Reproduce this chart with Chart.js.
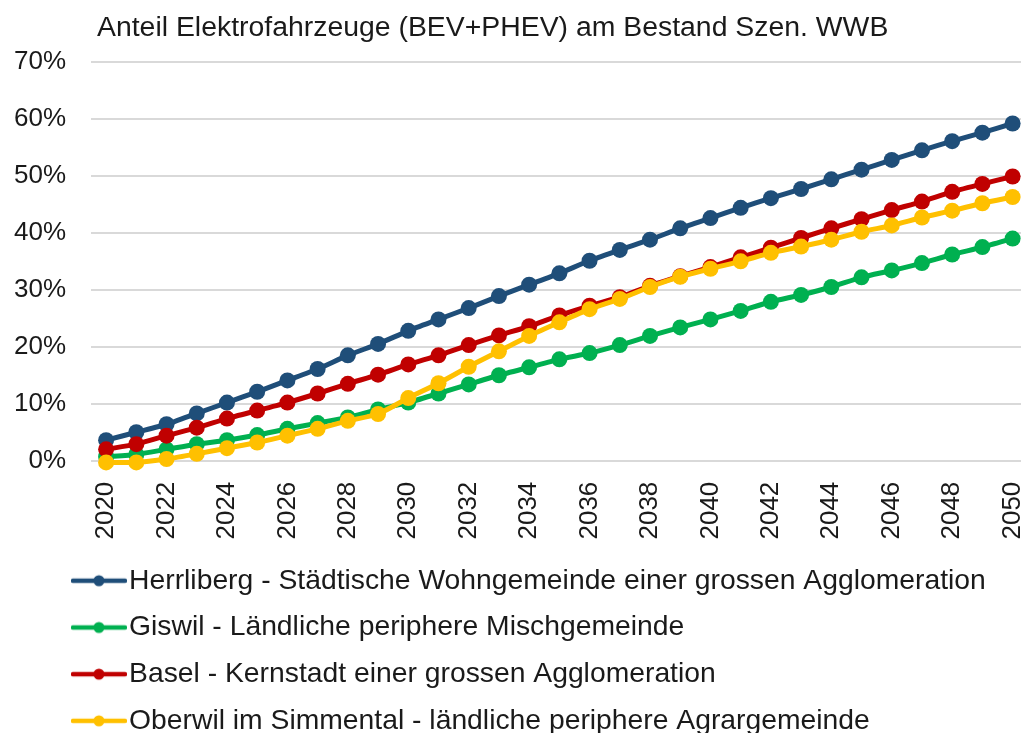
<!DOCTYPE html>
<html><head><meta charset="utf-8">
<script src="https://cdn.jsdelivr.net/npm/chart.js@4.4.1/dist/chart.umd.min.js"></script>
<style>
html,body{margin:0;padding:0;overflow:hidden;background:#fff}
#wrap{width:1065px;height:745px;position:relative}
</style></head>
<body><div id="wrap"><canvas id="c"></canvas></div>
<script>
const titleText = 'Anteil Elektrofahrzeuge (BEV+PHEV) am Bestand Szen. WWB';
const years = ['2020','2021','2022','2023','2024','2025','2026','2027','2028','2029','2030',
  '2031','2032','2033','2034','2035','2036','2037','2038','2039','2040',
  '2041','2042','2043','2044','2045','2046','2047','2048','2049','2050'];
const yTicks = [0,10,20,30,40,50,60,70];
const herrliberg = [3.6,5.0,6.4,8.3,10.2,12.1,14.1,16.1,18.5,20.5,22.8,24.8,26.8,28.9,30.9,32.9,35.1,37.0,38.8,40.8,42.6,44.4,46.1,47.7,49.4,51.1,52.8,54.5,56.1,57.6,59.2];
const giswil = [0.7,1.1,2.0,2.9,3.6,4.5,5.6,6.6,7.6,9.0,10.2,11.8,13.4,15.0,16.4,17.8,18.9,20.3,21.9,23.4,24.8,26.3,27.9,29.1,30.5,32.2,33.4,34.7,36.2,37.5,39.0];
const basel = [2.0,2.9,4.4,5.8,7.4,8.8,10.2,11.8,13.5,15.1,16.9,18.5,20.3,22.0,23.6,25.5,27.2,28.7,30.7,32.4,34.0,35.7,37.4,39.1,40.8,42.4,44.0,45.5,47.2,48.6,49.9];
const oberwil = [-0.3,-0.3,0.3,1.2,2.2,3.2,4.4,5.6,7.0,8.2,11.0,13.6,16.5,19.2,21.9,24.3,26.6,28.4,30.5,32.3,33.7,35.0,36.5,37.6,38.8,40.2,41.3,42.7,43.9,45.2,46.3];
const seriesLabels = [
  'Herrliberg - Städtische Wohngemeinde einer grossen Agglomeration',
  'Giswil - Ländliche periphere Mischgemeinde',
  'Basel - Kernstadt einer grossen Agglomeration',
  'Oberwil im Simmental - ländliche periphere Agrargemeinde'
];
const seriesColors = ['#1F4E79','#00B050','#C00000','#FFC000'];
const seriesData = [herrliberg, giswil, basel, oberwil];

const FONT = '"Liberation Sans", Arial, sans-serif';
const TEXT = '#1a1a1a';

function legendIcon(color){
  const cv = document.createElement('canvas');
  cv.width = 56; cv.height = 14;
  const g = cv.getContext('2d');
  g.strokeStyle = color; g.lineWidth = 4.5; g.lineCap = 'round';
  g.beginPath(); g.moveTo(2,7); g.lineTo(54,7); g.stroke();
  g.fillStyle = color; g.beginPath(); g.arc(28,7,5.5,0,Math.PI*2); g.fill();
  return cv;
}
const icons = seriesColors.map(legendIcon);

const titlePlugin = {
  id: 'sheetTitle',
  afterLayout(chart){
    if (chart.legend) { chart.legend.left = 64.5; }
  },
  afterDraw(chart){
    const ctx = chart.ctx;
    ctx.save();
    ctx.font = '28.4px ' + FONT;
    ctx.fillStyle = TEXT;
    ctx.textBaseline = 'middle';
    ctx.textAlign = 'left';
    ctx.fillText(titleText, 97, 28);
    ctx.restore();
  }
};

new Chart(document.getElementById('c'), {
  type: 'line',
  data: {
    labels: years,
    datasets: seriesData.map((d,i)=>({
      label: seriesLabels[i],
      data: d,
      borderColor: seriesColors[i],
      backgroundColor: seriesColors[i],
      borderWidth: 5,
      pointRadius: 8,
      pointHoverRadius: 8,
      pointBorderWidth: 0,
      tension: 0.2,
      clip: false,
      order: 4 - i
    }))
  },
  options: {
    responsive: true,
    maintainAspectRatio: false,
    animation: false,
    layout: { padding: { top: 62, left: 8, right: 12, bottom: 0 } },
    scales: {
      x: {
        offset: true,
        grid: { display: false, drawTicks: false },
        border: { display: false },
        ticks: {
          autoSkip: false, minRotation: 90, maxRotation: 90, padding: 21,
          color: TEXT, font: { family: FONT, size: 26 },
          callback: (v, idx) => idx % 2 === 0 ? years[idx] : ''
        },
        afterFit: (s) => { s.height = 87.5; }
      },
      y: {
        min: 0, max: 70,
        afterBuildTicks: (s) => { s.ticks = yTicks.map(v => ({ value: v })); },
        grid: { color: '#d9d9d9', lineWidth: 2, drawTicks: false },
        border: { display: false },
        ticks: {
          padding: 25, color: TEXT, font: { family: FONT, size: 26 },
          callback: (v) => v + '%'
        },
        afterFit: (s) => { s.width = 83; }
      }
    },
    plugins: {
      tooltip: { enabled: false },
      title: { display: false },
      legend: {
        position: 'bottom',
        align: 'start',
        labels: {
          usePointStyle: true,
          pointStyleWidth: 32,
          padding: 18.4,
          color: TEXT,
          font: { family: FONT, size: 28.3 },
          generateLabels: (chart) => chart.data.datasets.map((ds, i) => ({
            text: ds.label,
            pointStyle: icons[i],
            fillStyle: ds.borderColor,
            strokeStyle: ds.borderColor,
            lineWidth: 0,
            fontColor: TEXT,
            hidden: !chart.isDatasetVisible(i),
            datasetIndex: i
          }))
        }
      }
    }
  },
  plugins: [titlePlugin]
});
</script></body></html>
